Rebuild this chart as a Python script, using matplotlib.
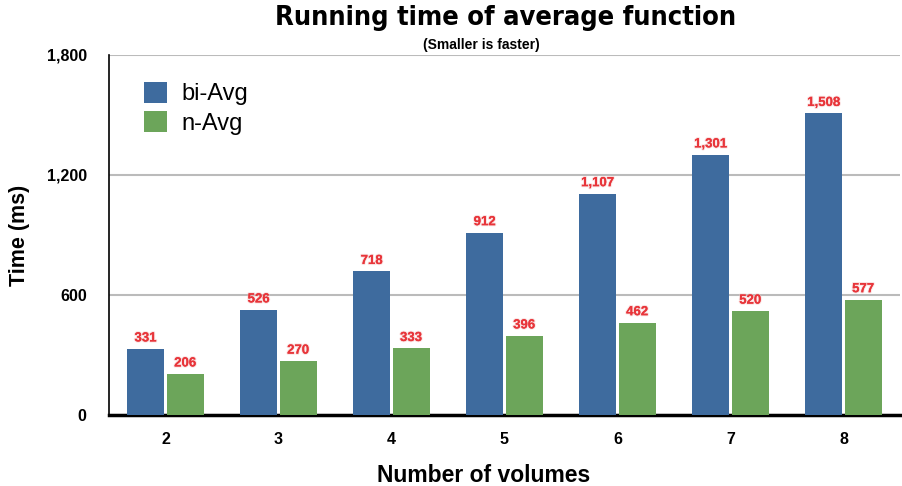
import numpy as np
import matplotlib.pyplot as plt
import matplotlib.patheffects as pe

# data
volumes = ["2", "3", "4", "5", "6", "7", "8"]
bi_avg = [331, 526, 718, 912, 1107, 1301, 1508]
n_avg = [206, 270, 333, 396, 462, 520, 577]

blauw = "#3e6b9e"
groen = "#6ca55a"
rood = "#e8353a"

fig = plt.figure(figsize=(9.02, 4.86), dpi=100)
ax = fig.add_axes([0.1208, 0.146, 0.877, 0.741])

x = np.arange(len(volumes))
w = 0.33
b1 = ax.bar(x - w / 2 - 0.01, bi_avg, w, color=blauw, label="bi-Avg", zorder=3)
b2 = ax.bar(x + w / 2 + 0.01, n_avg, w, color=groen, label="n-Avg", zorder=3)

for bars, vals in [(b1, bi_avg), (b2, n_avg)]:
    for r, v in zip(bars, vals):
        t = ax.text(r.get_x() + r.get_width() / 2, v + 22, f"{v:,}", ha="center", va="bottom",
                    color=rood, fontsize=9.5, fontweight="bold", family="Liberation Sans", zorder=4)
        t.set_path_effects([pe.withStroke(linewidth=1.5, foreground="#f3c0c0", alpha=0.5), pe.Normal()])

ax.set_xlim(-0.5, len(volumes) - 0.5)
ax.set_ylim(0, 1800)
ax.set_yticks([0, 600, 1200, 1800])
ax.set_yticklabels(["0", "600", "1,200", "1,800"])
ax.set_xticks(x)
ax.set_xticklabels(volumes)
for lab in ax.get_xticklabels() + ax.get_yticklabels():
    lab.set_fontweight("bold")
    lab.set_fontsize(11.5)
    lab.set_family("Liberation Sans")
ax.tick_params(length=0, pad=12)
ax.tick_params(axis="y", pad=16)

ax.grid(True, axis="y", color="#bbbbbb", linewidth=1.5, zorder=0)
ax.spines["top"].set_visible(False)
ax.spines["right"].set_visible(False)
ax.spines["left"].set_linewidth(1.2)
ax.spines["bottom"].set_linewidth(2.5)

ax.set_xlabel("Number of volumes", fontsize=16.5, fontweight="bold", family="Liberation Sans")
ax.xaxis.label.set_va("center")
ax.xaxis.set_label_coords(0.474, -0.167)
ax.set_ylabel("Time (ms)", fontsize=15.5, fontweight="bold", family="Liberation Sans", labelpad=12)

fig.text(0.56, 0.963, "Running time of average function", ha="center", va="center",
         fontsize=19.5, fontweight="bold", family="DejaVu Sans", fontstretch="condensed")
fig.text(0.534, 0.907, "(Smaller is faster)", ha="center", va="center",
         fontsize=10, fontweight="bold", family="Liberation Sans")

leg = ax.legend(loc="upper left", bbox_to_anchor=(0.017, 0.985), frameon=False,
                prop={"family": "Liberation Sans", "size": 17}, handlelength=1.0, handleheight=1.0,
                labelspacing=0.25, handletextpad=0.6)

fig.savefig("out.png", dpi=100)
